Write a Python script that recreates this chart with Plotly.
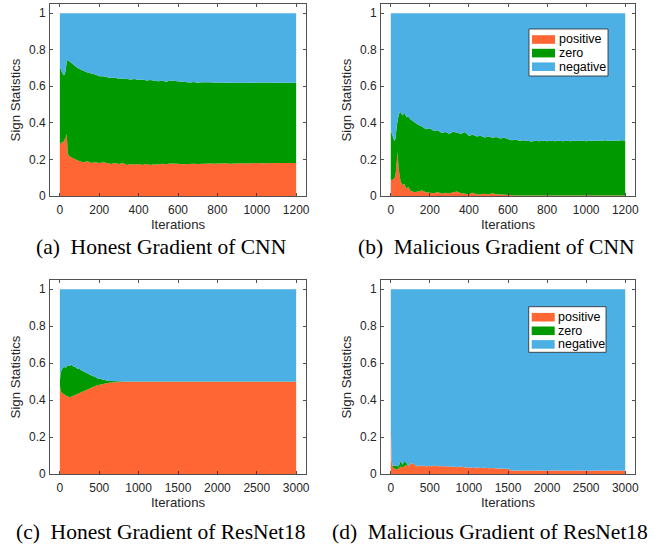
import plotly.graph_objects as go

# ---------------- data ----------------
x_cnn = [0, 5, 10, 15, 20, 25, 30, 35, 40, 45, 50, 60, 70, 80, 90,
         100, 120, 140, 160, 180, 200, 220, 240, 260, 280, 300, 320, 340, 360, 380,
         400, 420, 440, 460, 480, 500, 520, 540, 560, 580, 600, 620, 640, 660, 680,
         700, 720, 740, 760, 780, 800, 820, 840, 860, 880, 900, 920, 940, 960, 980,
         1000, 1020, 1040, 1060, 1080, 1100, 1120, 1140, 1160, 1180, 1200]

x_res = [0, 5, 10, 25, 50, 75, 100, 125, 150, 175, 200, 225, 250, 275, 300, 325,
         350, 375, 400, 425, 450, 475, 500, 525, 550, 575, 600, 625, 650, 675, 700,
         725, 750, 775, 800, 850, 900, 950, 1000, 1050, 1100, 1150, 1200, 1250, 1300,
         1350, 1400, 1450, 1500, 1550, 1600, 1650, 1700, 1750, 1800, 1850, 1900, 1950,
         2000, 2050, 2100, 2150, 2200, 2250, 2300, 2350, 2400, 2450, 2500, 2550, 2600,
         2650, 2700, 2750, 2800, 2850, 2900, 2950, 3000]

# (a) Honest gradient of CNN
a_pos = [.280, .290, .295, .290, .300, .305, .320, .340, .235, .220, .215, .210, .205, .200, .195,
         .190, .185, .190, .180, .185, .180, .185, .180, .175, .180, .175, .180, .170, .175, .172,
         .175, .170, .176, .170, .174, .172, .176, .174, .178, .175, .176, .174, .176, .175, .177,
         .175, .177, .176, .178, .176, .178, .177, .179, .177, .179, .178, .179, .178, .180, .178,
         .180, .179, .180, .179, .181, .180, .181, .180, .181, .180, .181]
a_zero = [.420, .405, .385, .380, .360, .360, .370, .395, .510, .520, .520, .515, .510, .505, .505,
          .505, .500, .485, .490, .480, .475, .470, .470, .470, .468, .465, .463, .470, .462, .468,
          .460, .467, .456, .465, .456, .455, .454, .451, .454, .455, .449, .448, .448, .446, .446,
          .445, .445, .444, .444, .445, .442, .445, .441, .444, .440, .443, .441, .444, .440, .443,
          .439, .442, .440, .441, .438, .441, .439, .439, .439, .439, .439]
a_neg = [.300, .305, .320, .330, .340, .335, .310, .265, .255, .260, .265, .275, .285, .295, .300,
         .305, .315, .325, .330, .335, .345, .345, .350, .355, .352, .360, .357, .360, .363, .360,
         .365, .363, .368, .365, .370, .373, .370, .375, .368, .370, .375, .378, .376, .379, .377,
         .380, .378, .380, .378, .379, .380, .378, .380, .379, .381, .379, .380, .378, .380, .379,
         .381, .379, .380, .380, .381, .379, .380, .381, .380, .381, .380]

# (b) Malicious gradient of CNN
b_pos = [.085, .090, .088, .095, .100, .120, .180, .240, .150, .100, .080, .060, .065, .040, .050,
         .030, .020, .025, .030, .020, .018, .015, .022, .012, .018, .015, .020, .025, .015, .012,
         .010, .018, .008, .010, .012, .008, .015, .010, .008, .010, .004, .003, .003, .003, .003,
         .003, .003, .003, .003, .003, .003, .003, .003, .003, .003, .003, .003, .003, .003, .003,
         .003, .003, .003, .003, .003, .003, .003, .003, .003, .003, .003]
b_zero = [.275, .250, .242, .215, .200, .200, .200, .180, .290, .355, .380, .380, .390, .390, .385,
          .390, .385, .365, .350, .345, .352, .340, .338, .333, .332, .325, .332, .320, .325, .338,
          .320, .317, .317, .320, .308, .317, .303, .312, .307, .308, .306, .302, .305, .299, .302,
          .297, .295, .299, .297, .300, .297, .299, .297, .300, .296, .299, .297, .300, .298, .301,
          .297, .300, .298, .301, .299, .302, .298, .301, .299, .302, .300]
b_neg = [.640, .660, .670, .690, .700, .680, .620, .580, .560, .545, .540, .560, .545, .570, .565,
         .580, .595, .610, .620, .635, .630, .645, .640, .655, .650, .660, .648, .655, .660, .650,
         .670, .665, .675, .670, .680, .675, .682, .678, .685, .682, .690, .695, .692, .698, .695,
         .700, .702, .698, .700, .697, .700, .698, .700, .697, .701, .698, .700, .697, .699, .696,
         .700, .697, .699, .696, .698, .695, .699, .696, .698, .695, .697]

# (c) Honest gradient of ResNet18
c_pos = [.480, .460, .450, .440, .430, .425, .420, .415, .420, .425, .430, .435, .440, .445, .450, .455,
         .460, .465, .468, .472, .476, .480, .483, .486, .488, .490, .492, .494, .495, .496, .497,
         .497, .498, .498, .498, .499, .499, .499, .499, .499, .499, .499, .499, .499, .499,
         .499, .499, .499, .499, .499, .499, .499, .499, .499, .499, .499, .499, .499,
         .499, .499, .499, .499, .499, .499, .499, .499, .499, .499, .499, .499, .499,
         .499, .499, .499, .499, .499, .499, .499, .499]
c_zero = [.020, .070, .100, .125, .150, .150, .170, .170, .172, .155, .148, .135, .128, .115, .106, .093,
          .085, .073, .067, .056, .049, .038, .032, .026, .022, .017, .014, .010, .008, .006, .004,
          .003, .002, .002, .002, .001, .001, .001, .001, .001, .001, .001, .001, .001, .001,
          .001, .001, .001, .001, .001, .001, .001, .001, .001, .001, .001, .001, .001,
          .001, .001, .001, .001, .001, .001, .001, .001, .001, .001, .001, .001, .001,
          .001, .001, .001, .001, .001, .001, .001, .001]
c_neg = [.500, .470, .450, .435, .420, .425, .410, .415, .408, .420, .422, .430, .432, .440, .444, .452,
         .455, .462, .465, .472, .475, .482, .485, .488, .490, .493, .494, .496, .497, .498, .499,
         .500, .500, .500, .500, .500, .500, .500, .500, .500, .500, .500, .500, .500, .500,
         .500, .500, .500, .500, .500, .500, .500, .500, .500, .500, .500, .500, .500,
         .500, .500, .500, .500, .500, .500, .500, .500, .500, .500, .500, .500, .500,
         .500, .500, .500, .500, .500, .500, .500, .500]

# (d) Malicious gradient of ResNet18
d_pos = [.280, .110, .070, .035, .030, .025, .030, .040, .035, .045, .050, .040, .055, .060, .050, .045,
         .040, .048, .042, .046, .040, .044, .045, .040, .047, .042, .045, .040, .044, .040, .043,
         .039, .042, .038, .041, .037, .040, .035, .037, .033, .035, .032, .034, .031, .033,
         .030, .031, .029, .028, .018, .019, .017, .018, .019, .017, .018, .019, .017,
         .018, .019, .018, .017, .019, .018, .017, .019, .018, .018, .017, .019, .018,
         .019, .017, .018, .019, .018, .017, .019, .018]
d_zero = [.000, .000, .000, .010, .015, .020, .010, .030, .015, .025, .010, .005, .000, .000, .000, .000,
          .000, .000, .000, .000, .000, .000, .000, .000, .000, .000, .000, .000, .000, .000, .000,
          .000, .000, .000, .000, .000, .000, .000, .000, .000, .000, .000, .000, .000, .000,
          .000, .000, .000, .000, .000, .000, .000, .000, .000, .000, .000, .000, .000,
          .000, .000, .000, .000, .000, .000, .000, .000, .000, .000, .000, .000, .000,
          .000, .000, .000, .000, .000, .000, .000, .000]
d_neg = [.720, .890, .930, .955, .955, .955, .960, .930, .950, .930, .940, .955, .945, .940, .950, .955,
         .960, .952, .958, .954, .960, .956, .955, .960, .953, .958, .955, .960, .956, .960, .957,
         .961, .958, .962, .959, .963, .960, .965, .963, .967, .965, .968, .966, .969, .967,
         .970, .969, .971, .972, .982, .981, .983, .982, .981, .983, .982, .981, .983,
         .982, .981, .982, .983, .981, .982, .983, .981, .982, .982, .983, .981, .982,
         .981, .983, .982, .981, .982, .983, .981, .982]

series_names = ["positive", "zero", "negative"]
series_colors = ["#FF6633", "#009900", "#4DB0E5"]

cnn_ticks = [0, 200, 400, 600, 800, 1000, 1200]
res_ticks = [0, 500, 1000, 1500, 2000, 2500, 3000]
y_ticks = [0, 0.2, 0.4, 0.6, 0.8, 1]
y_ticktext = ["0", "0.2", "0.4", "0.6", "0.8", "1"]

captions = ["(a)  Honest Gradient of CNN", "(b)  Malicious Gradient of CNN",
            "(c)  Honest Gradient of ResNet18", "(d)  Malicious Gradient of ResNet18"]

# ---------------- figure ----------------
W, H = 664, 548
fig = go.Figure()

panels = [
    (x_cnn, [a_pos, a_zero, a_neg]),
    (x_cnn, [b_pos, b_zero, b_neg]),
    (x_res, [c_pos, c_zero, c_neg]),
    (x_res, [d_pos, d_zero, d_neg]),
]

for i, (xs, ys) in enumerate(panels):
    sfx = "" if i == 0 else str(i + 1)
    for name, col, yv in zip(series_names, series_colors, ys):
        fig.add_trace(go.Scatter(
            x=xs, y=yv, name=name, mode="lines", stackgroup="g%d" % i,
            line=dict(width=0, color=col), fillcolor=col,
            xaxis="x" + sfx, yaxis="y" + sfx,
            showlegend=False, hoverinfo="skip",
        ))

# pixel frames: (left, right, top, bottom)
frames = [(50, 306, 4, 196), (381, 635, 4, 196), (50, 306, 280, 474), (381, 635, 280, 474)]
xranges = [[-50, 1250], [-50, 1250], [-125, 3125], [-125, 3125]]
xticks = [cnn_ticks, cnn_ticks, res_ticks, res_ticks]

sans = "Liberation Sans, Arial"
axis_common = dict(showline=True, linecolor="#262626", linewidth=0.8, mirror="ticks",
                   ticks="inside", ticklen=3, tickwidth=0.8, tickcolor="#262626",
                   showgrid=False, zeroline=False, automargin=False,
                   tickfont=dict(family=sans, size=12, color="#262626"))

layout = {}
for i, (l, r, t, b) in enumerate(frames):
    sfx = "" if i == 0 else str(i + 1)
    layout["xaxis" + sfx] = dict(axis_common, domain=[l / W, r / W], range=xranges[i],
                                 tickvals=xticks[i], anchor="y" + sfx, ticklabelstandoff=3,
                                 title=dict(text="Iterations", standoff=0,
                                            font=dict(family=sans, size=13.2, color="#262626")))
    layout["yaxis" + sfx] = dict(axis_common, domain=[1 - b / H, 1 - t / H], range=[0, 1.05],
                                 tickvals=y_ticks, ticktext=y_ticktext, anchor="x" + sfx,
                                 ticklabelstandoff=1,
                                 title=dict(text="Sign Statistics", standoff=5,
                                            font=dict(family=sans, size=13.2, color="#262626")))

cap_pos = [(161, 247), (496, 247), (161, 531.5), (490, 531.5)]
annotations = []
for (cx, cy), txt in zip(cap_pos, captions):
    annotations.append(dict(text=txt.replace("  ", "&nbsp; "), x=cx / W, y=1 - cy / H,
                            xref="paper", yref="paper", xanchor="center", yanchor="middle",
                            showarrow=False,
                            font=dict(family="Liberation Serif, Times New Roman", size=21.5, color="black")))

# legends drawn as boxes with swatches and text (pixel geometry)
legend_boxes = [(529, 608, 29, 76), (528.7, 606, 306.7, 352.3)]
shapes = []
for (bl, br, bt, bb) in legend_boxes:
    shapes.append(dict(type="rect", xref="paper", yref="paper", layer="above",
                       x0=bl / W, x1=br / W, y0=1 - bb / H, y1=1 - bt / H,
                       line=dict(color="#262626", width=0.8), fillcolor="white"))
    for k, (name, col) in enumerate(zip(series_names, series_colors)):
        cy = bt + 10.5 + 13.6 * k
        shapes.append(dict(type="rect", xref="paper", yref="paper", layer="above",
                           x0=(bl + 3) / W, x1=(bl + 26) / W,
                           y0=1 - (cy + 4.3) / H, y1=1 - (cy - 4.3) / H,
                           line=dict(width=0), fillcolor=col))
        annotations.append(dict(text=name, x=(bl + 27.5) / W, y=1 - cy / H,
                                xref="paper", yref="paper", xanchor="left", yanchor="middle",
                                showarrow=False, font=dict(family=sans, size=12.5, color="black")))

fig.update_layout(
    width=W, height=H, margin=dict(l=0, r=0, t=0, b=0),
    paper_bgcolor="white", plot_bgcolor="white",
    annotations=annotations, shapes=shapes, showlegend=False,
    **layout,
)

fig.write_html("out.html", config={"displayModeBar": False, "staticPlot": True},
               post_script="document.body.style.margin='0px';document.body.style.overflow='hidden';")
